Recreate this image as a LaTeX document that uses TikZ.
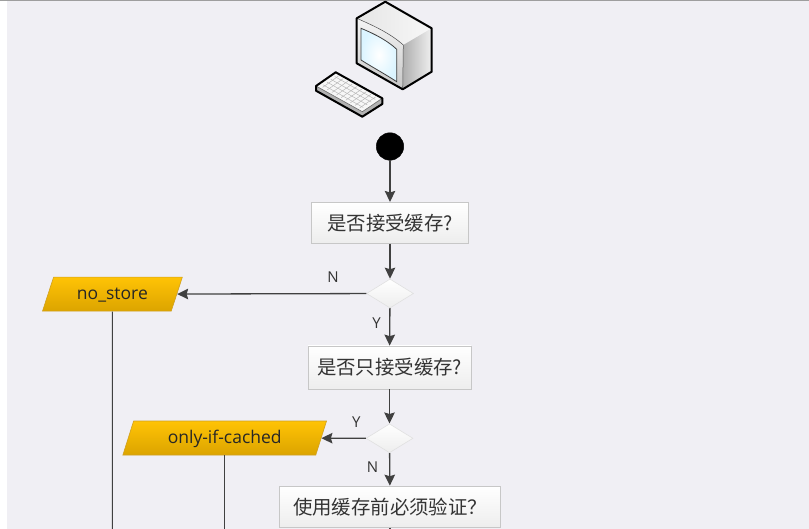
\documentclass[tikz,border=0pt]{standalone}
\usepackage{fontspec}
\setmainfont{Open Sans}
\newfontfamily\cjk{Noto Sans CJK SC}
\usetikzlibrary{arrows.meta,shapes.geometric,calc,shadings}
\definecolor{bgc}{HTML}{F0EFF4}
\definecolor{linec}{HTML}{404040}
\definecolor{txtc}{HTML}{333333}
\definecolor{iotop}{HTML}{FFC305}
\definecolor{iobot}{HTML}{DCA400}
\definecolor{ioedge}{HTML}{D0A020}
\tikzset{
  boxnode/.style={rectangle,draw=black!22,line width=.7pt,top color=white,bottom color=black!7,inner sep=0,text=txtc,font=\cjk\fontsize{19.4}{22}\selectfont},
  decision/.style={diamond,draw=black!12,line width=.6pt,top color=white,bottom color=black!7,inner sep=0,minimum width=47pt,minimum height=29pt,aspect=1.6},
  ionode/.style={trapezium,trapezium stretches=true,trapezium left angle=64.4,trapezium right angle=115.6,draw=ioedge,line width=.6pt,top color=iotop,bottom color=iobot,inner sep=0,minimum height=34pt,text=black!85,font=\fontsize{17.5}{20}\selectfont},
  flow/.style={draw=linec,line width=1.3pt,-{Stealth[length=11pt,width=10.5pt,inset=1.5pt]}},
  plainline/.style={draw=linec,line width=1.1pt},
  letter/.style={text=txtc,inner sep=0,font=\fontsize{15}{18}\selectfont},
  outlinepart/.style={draw=black,line width=2pt,line join=round},
}
\begin{document}
\begin{tikzpicture}[x=1pt,y=-1pt]
\useasboundingbox (0,0) rectangle (809,529);
\fill[white] (0,0) rectangle (809,529);
\fill[bgc] (7,0) rectangle (809,529);
\fill[black!38] (0,0) rectangle (809,1.2);
% computer
\path[left color=black!10,right color=black!3] (356.7,18.3) -- (385.3,1.7) -- (431.7,28.3) -- (403.3,45) .. controls (390,33) and (372,25) .. cycle;
\path[left color=black!32,right color=black!6] (403.3,45) -- (431.7,28.3) -- (431.7,71.7) -- (402.7,89.3) -- cycle;
\path[top color=black!4,bottom color=black!22] (356.7,18.3) .. controls (372,25) and (390,33) .. (403.3,45) -- (402.7,89.3) .. controls (388,80) and (372,72) .. (356.7,63.3) -- cycle;
\draw[black!75,line width=.8pt,inner color=white,outer color=blue!30!cyan!14!white]
  (361,28.3) .. controls (375,34) and (388,41) .. (396.7,49.3) -- (396.7,81.7) .. controls (385,74) and (372,67) .. (361,60) -- cycle;
\draw[black!70,line width=.5pt] (356.7,18.3) .. controls (372,25) and (390,33) .. (403.3,45) -- (402.7,89.3);
\draw[outlinepart] (356.7,18.3) -- (385.3,1.7) -- (431.7,28.3) -- (431.7,71.7) -- (402.7,89.3) -- (356.7,63.3) -- cycle;
% keyboard
\coordinate (kA) at (335.7,72.3);
\coordinate (kB) at (382.3,98.3);
\coordinate (kC) at (362.3,111.7);
\coordinate (kD) at (316,86);
\path[fill=black!30] (kD) -- (kC) -- (kB) -- (382.3,104) -- (362.3,116.7) -- (316,90.7) -- cycle;
\fill[black!3] (kA) -- (kB) -- (kC) -- (kD) -- cycle;
\foreach \t in {0.1,0.2,...,0.95}{
  \draw[black!28,line width=.5pt] ($(kA)!\t!(kB)+(-2,1.2)$) -- ($(kD)!\t!(kC)+(2,-1.2)$);
}
\foreach \t in {0.2,0.4,0.6,0.8}{
  \draw[black!28,line width=.5pt] ($(kA)!\t!(kD)+(3,1.5)$) -- ($(kB)!\t!(kC)+(-3,-1.5)$);
}
\draw[black!60,line width=.6pt] (kD) -- (kC) -- (kB);
\draw[outlinepart] (kA) -- (kB) -- (382.3,104) -- (362.3,116.7) -- (316,90.7) -- (kD) -- cycle;
% nodes
\node[circle,fill=black,draw=black,line width=.4pt,minimum size=27.5pt,inner sep=0] (start) at (390,146.5) {};
\node[boxnode,minimum width=156.5pt,minimum height=41pt] (b1) at (390,222.8) {是否接受缓存?};
\node[decision] (d1) at (390,293.5) {};
\node[boxnode,minimum width=163pt,minimum height=43pt] (b2) at (389.5,367.5) {是否只接受缓存?};
\node[decision] (d2) at (389.5,438.3) {};
\node[boxnode,minimum width=221.5pt,minimum height=41.5pt] (b3) at (390,506.8) {使用缓存前必须验证？};
\node[ionode,minimum width=140.7pt] (io1) at (112.4,294.2) {\raisebox{-5.8pt}[7pt][7pt]{no\_store}};
\node[ionode,minimum width=204pt] (io2) at (224.7,438) {\raisebox{-5.8pt}[7pt][7pt]{only-if-cached}};
\coordinate (e1) at (112.4,529);
\coordinate (e2) at (224.7,529);
\coordinate (e3) at (390,529);
% connectors
\draw[flow] (start) -- (b1);
\draw[flow] (b1) -- (d1);
\draw[flow] (d1) -- (b2);
\draw[flow] (d1) -- (io1);
\draw[flow] (b2) -- (d2);
\draw[flow] (d2) -- (io2);
\draw[flow] (d2) -- (b3);
\draw[plainline] (io1) -- (e1);
\draw[plainline] (io2) -- (e2);
\draw[plainline] (b3) -- (e3);
% labels
\node[letter] (ln1) at (333,277.5) {N};
\node[letter] (ly1) at (376.5,323) {Y};
\node[letter] (ly2) at (356.3,422) {Y};
\node[letter] (ln2) at (372.5,467.5) {N};
\end{tikzpicture}
\end{document}
